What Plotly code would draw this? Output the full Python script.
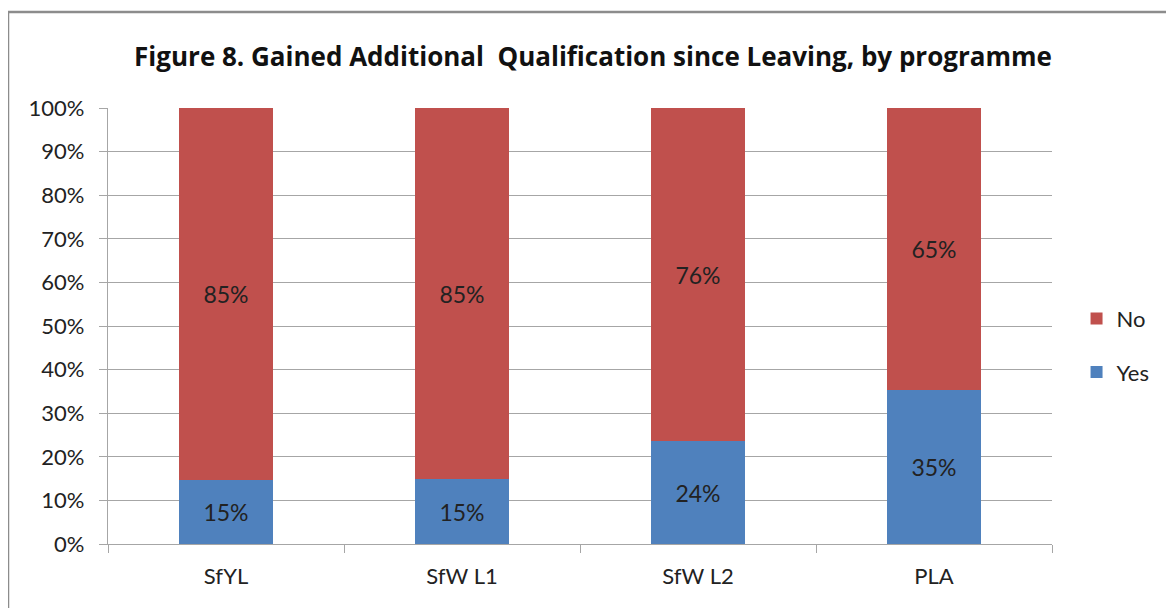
import plotly.graph_objects as go

categories = ["SfYL", "SfW L1", "SfW L2", "PLA"]
yes_values = [14.6, 14.8, 23.6, 35.4]
no_values = [85.4, 85.2, 76.4, 64.6]
y_tick_values = [0, 10, 20, 30, 40, 50, 60, 70, 80, 90, 100]
y_tick_labels = ["0%", "10%", "20%", "30%", "40%", "50%", "60%", "70%", "80%", "90%", "100%"]

FONT = "Lato, 'Open Sans', sans-serif"
TFONT = "'Open Sans', Lato, sans-serif"
GRID = "#a6a6a6"

fig = go.Figure()
fig.add_trace(go.Bar(
    name="Yes", x=categories, y=yes_values, marker=dict(color="#4f81bd", line=dict(width=0)),
    texttemplate="%{y:.0f}%", textposition="inside", insidetextanchor="middle",
    textfont=dict(color="#222222", size=23, family=FONT), legendgroup="yes", legendrank=2,
))
fig.add_trace(go.Bar(
    name="No", x=categories, y=no_values, marker=dict(color="#c0504d", line=dict(width=0)),
    texttemplate="%{y:.0f}%", textposition="inside", insidetextanchor="middle",
    textfont=dict(color="#222222", size=23, family=FONT), legendgroup="no", legendrank=1,
))

# page body has an 8px margin; compensate so the plot lands at the reference pixels
OFF = 8
L, R, T, B = 108 - OFF, 1052 - OFF, 108 - OFF, 544 - OFF
W, H = 1174 - OFF, 608 - OFF
fig.update_layout(
    width=W, height=H,
    barmode="stack", bargap=0.6,
    paper_bgcolor="white", plot_bgcolor="white",
    margin=dict(l=L, r=W - R, t=T, b=H - B, pad=0),
    font=dict(family=FONT, size=22, color="#222222"),
    title=dict(text="<b>Figure 8. Gained Additional  Qualification since Leaving, by programme</b>",
               x=(593 - OFF) / W, xanchor="center", y=1 - (57 - OFF) / H, yanchor="middle",
               font=dict(size=26, color="#111111", family=TFONT)),
    legend=dict(x=1.026, xanchor="left", y=0.455, yanchor="middle",
                traceorder="grouped", tracegroupgap=22,
                font=dict(size=22, family=FONT), itemwidth=30, bgcolor="rgba(0,0,0,0)"),
    showlegend=True,
    uniformtext=dict(mode=False),
)
fig.update_yaxes(range=[0, 100], tickvals=y_tick_values, ticktext=y_tick_labels,
                 showgrid=True, gridcolor=GRID, gridwidth=1.3,
                 showline=True, linecolor=GRID, linewidth=1.3,
                 ticks="outside", ticklen=8, tickcolor=GRID, tickwidth=1.3,
                 tickfont=dict(size=22, family=FONT), zeroline=False, ticklabelstandoff=10)
fig.update_xaxes(showline=True, linecolor=GRID, linewidth=1.3,
                 ticks="outside", ticklen=8, tickcolor=GRID, tickwidth=1.3, tickson="boundaries",
                 tickfont=dict(size=22, family=FONT), showgrid=False, ticklabelstandoff=12)

# outer chart border (top and left visible)
pw, ph = R - L, B - T
x_left = (8 - 108) / pw
y_top = (544 - 12) / ph
fig.add_shape(type="line", xref="paper", yref="paper", x0=x_left, x1=x_left, y0=-1, y1=y_top,
              line=dict(color="#8c8c8c", width=2.5))
fig.add_shape(type="line", xref="paper", yref="paper", x0=x_left, x1=1.5, y0=y_top, y1=y_top,
              line=dict(color="#8c8c8c", width=2.5))

fig.write_html("out.html")
